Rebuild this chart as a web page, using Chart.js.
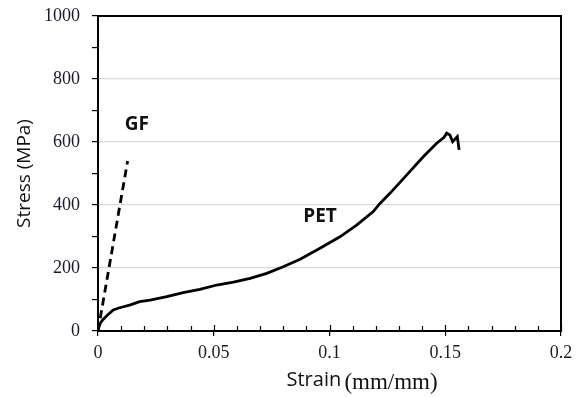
<!DOCTYPE html>
<html>
<head>
<meta charset="utf-8">
<script src="https://cdn.jsdelivr.net/npm/chart.js@4"></script>
<style>
  body { margin: 0; background: #fff; }
  #wrap { width: 583px; height: 397px; }
</style>
</head>
<body>
<div id="wrap"><canvas id="myChart" width="583" height="397"></canvas></div>
<script>
// data (strain mm/mm, stress MPa)
const petStrain = [0, 0.0005, 0.001, 0.002, 0.004, 0.0066, 0.009, 0.011, 0.014, 0.018, 0.0225, 0.0297, 0.0368, 0.044, 0.0513, 0.0585, 0.0657, 0.0729, 0.08, 0.0873, 0.0959, 0.1045, 0.1117, 0.1189, 0.1218, 0.1261, 0.1333, 0.1405, 0.1463, 0.1495, 0.1506, 0.152, 0.1532, 0.1552, 0.156]
const petStress = [0, 15, 25, 35, 50, 67, 73, 77, 83, 93, 98, 109, 122, 132, 146, 155, 167, 183, 204, 228, 263, 299, 336, 379, 405, 437, 495, 553, 596, 615, 628, 622, 601, 617, 575]
const gfStrain = [0, 0.0128]
const gfStress = [0, 540]
const xTicks = [0, 0.05, 0.1, 0.15, 0.2]
const yTicks = [0, 200, 400, 600, 800, 1000]

function toPoints(xs, ys) {
    return xs.map((x, i) => ({ x: x, y: ys[i] }))
}

// frame, minor ticks, titles and curve labels
const extras = {
    id: 'extras',
    afterDraw(chart) {
        const ctx = chart.ctx
        const a = chart.chartArea
        const xs = chart.scales.x
        const ys = chart.scales.y
        ctx.save()
        ctx.strokeStyle = '#000'
        ctx.lineWidth = 2
        ctx.strokeRect(a.left, a.top, a.right - a.left, a.bottom - a.top)
        // minor x ticks inside
        ctx.lineWidth = 1.2
        for (let i = 1; i < 20; i++) {
            if (i % 5 === 0) continue
            const px = Math.round(xs.getPixelForValue(i * 0.01)) + 0.5
            ctx.beginPath()
            ctx.moveTo(px, a.bottom)
            ctx.lineTo(px, a.bottom - 5)
            ctx.stroke()
        }
        // major x ticks a bit inside too
        for (const v of xTicks) {
            const px = Math.round(xs.getPixelForValue(v)) + 0.5
            ctx.beginPath()
            ctx.moveTo(px, a.bottom)
            ctx.lineTo(px, a.bottom - 6)
            ctx.stroke()
        }
        ctx.fillStyle = '#111'
        // y title
        ctx.save()
        ctx.translate(25, (a.top + a.bottom) / 2)
        ctx.rotate(-Math.PI / 2)
        ctx.font = '19px "Open Sans"'
        ctx.textAlign = 'center'
        ctx.textBaseline = 'middle'
        ctx.fillText('Stress (MPa)', 0, 0)
        ctx.restore()
        // x title: sans + serif
        const startX = xs.getPixelForValue(0.1) - 43
        ctx.textBaseline = 'alphabetic'
        ctx.textAlign = 'left'
        ctx.font = '20px "Open Sans"'
        ctx.fillText('Strain', startX, 386)
        const w = ctx.measureText('Strain ').width
        ctx.font = '23px "Liberation Serif"'
        ctx.fillText('(mm/mm)', startX + w - 2, 389)
        // curve labels
        ctx.font = 'bold 19px "Open Sans"'
        ctx.textAlign = 'center'
        ctx.textBaseline = 'middle'
        ctx.fillText('GF', xs.getPixelForValue(0.0168), ys.getPixelForValue(654))
        ctx.fillText('PET', xs.getPixelForValue(0.0959), ys.getPixelForValue(362))
        ctx.restore()
    }
}

const config = {
    type: 'scatter',
    data: {
        datasets: [
            {
                label: 'PET',
                data: toPoints(petStrain, petStress),
                showLine: true,
                borderColor: '#000',
                borderWidth: 2.8,
                pointRadius: 0,
                tension: 0
            },
            {
                label: 'GF',
                data: toPoints(gfStrain, gfStress),
                showLine: true,
                borderColor: '#000',
                borderWidth: 2.8,
                borderDash: [8, 5],
                pointRadius: 0
            }
        ]
    },
    options: {
        responsive: false,
        animation: false,
        layout: { padding: { left: 0, top: 16, right: 22, bottom: 0 } },
        plugins: {
            legend: { display: false },
            tooltip: { enabled: false }
        },
        scales: {
            x: {
                type: 'linear',
                min: 0,
                max: 0.2,
                afterFit: (s) => { s.height = 66; s.paddingLeft = 0; s.paddingRight = 0 },
                afterBuildTicks: (s) => { s.ticks = xTicks.map(v => ({ value: v })) },
                border: { color: '#000', width: 2 },
                grid: { drawOnChartArea: false, color: '#000', tickLength: 5, lineWidth: 1.2 },
                ticks: {
                    padding: 6,
                    color: '#1a1a2a',
                    font: { family: '"Liberation Serif"', size: 18 },
                    callback: (v) => String(Number(v.toFixed(2)))
                }
            },
            y: {
                type: 'linear',
                min: 0,
                max: 1000,
                afterFit: (s) => { s.width = 98; s.paddingTop = 0; s.paddingBottom = 0 },
                afterBuildTicks: (s) => {
                    const t = []
                    for (let v = 0; v <= 1000; v += 100) t.push({ value: v })
                    s.ticks = t
                },
                border: { color: '#000', width: 2 },
                grid: {
                    color: (c) => {
                        const v = c.tick ? c.tick.value : 0
                        return (v % 200 === 0 && v > 0 && v < 1000) ? '#d9d9d9' : 'rgba(0,0,0,0)'
                    },
                    tickColor: '#000',
                    tickLength: 6,
                    lineWidth: 1.2
                },
                ticks: {
                    padding: 12,
                    color: '#1a1a2a',
                    font: { family: '"Liberation Serif"', size: 18 },
                    callback: (v) => (v % 200 === 0 ? String(v) : '')
                }
            }
        }
    },
    plugins: [extras]
}

new Chart(document.getElementById('myChart'), config)
</script>
</body>
</html>
